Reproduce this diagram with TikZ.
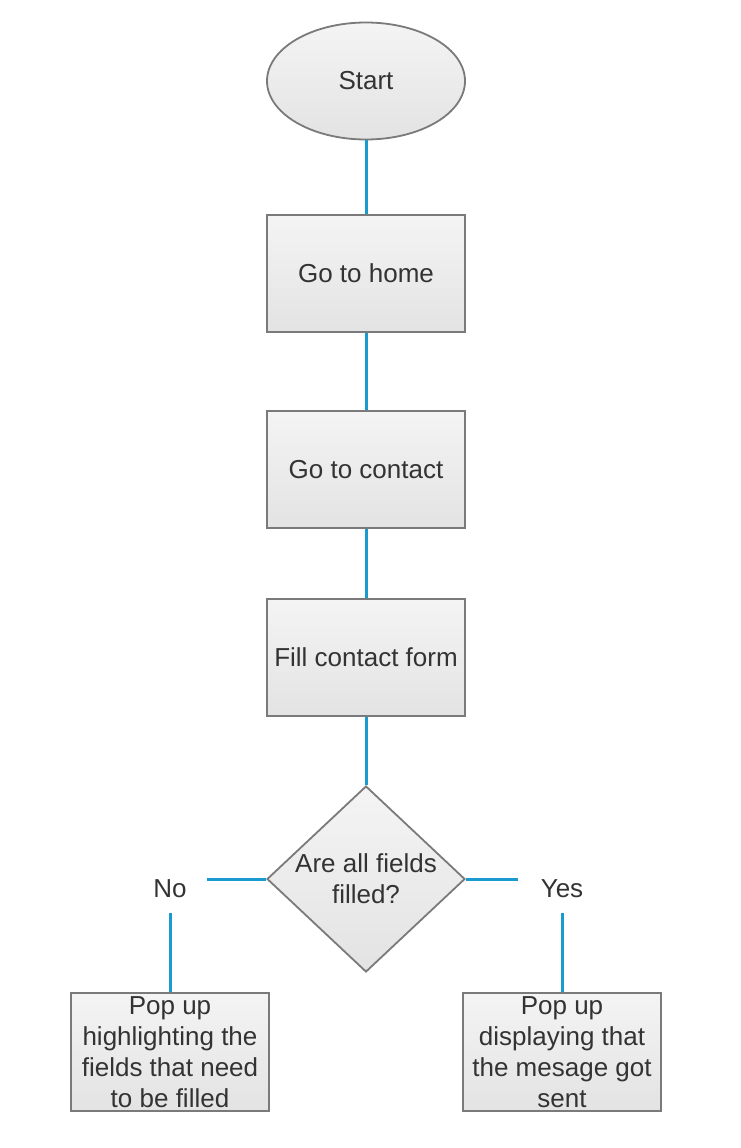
\documentclass[tikz,border=0pt]{standalone}
\usepackage{fontspec}
\setmainfont{Liberation Sans}
\usetikzlibrary{shapes.geometric}
\definecolor{flowline}{RGB}{26,155,208}
\definecolor{boxedge}{RGB}{122,122,122}
\definecolor{boxtop}{RGB}{244,244,244}
\definecolor{boxbottom}{RGB}{227,227,227}
\definecolor{boxtext}{RGB}{51,51,51}

\begin{document}
\begin{tikzpicture}[x=1pt,y=-1pt,
  every node/.style={font=\fontsize{26}{31}\selectfont, text=boxtext},
  shaded/.style={draw=boxedge, line width=1.8pt, top color=boxtop, bottom color=boxbottom},
  stepbox/.style={shaded, rectangle, minimum width=198pt, minimum height=117pt, inner sep=0pt, align=center},
  answer/.style={inner xsep=20pt, inner ysep=0pt, minimum height=48pt},
  flow/.style={draw=flowline, line width=3pt}]
  \useasboundingbox (0,0) rectangle (740,1148);

  \node[shaded, ellipse, minimum width=198pt, minimum height=117pt, inner sep=0pt] (start) at (366,81) {Start};
  \node[stepbox] (home) at (366,273.5) {Go to home};
  \node[stepbox] (contact) at (366,469.5) {Go to contact};
  \node[stepbox] (form) at (366,657.5) {Fill contact form};
  \node[shaded, diamond, aspect=1.06, minimum width=198pt, minimum height=186pt, inner sep=-3pt, align=center] (check) at (366,879) {Are all fields\\filled?};

  \node[answer] (no) at (170,889) {No};
  \node[answer, inner xsep=23pt] (yes) at (562,889) {Yes};

  \node[stepbox, minimum height=118pt] (fail) at (170,1052) {Pop up\\highlighting the\\fields that need\\to be filled};
  \node[stepbox, minimum height=118pt] (sent) at (562,1052) {Pop up\\displaying that\\the mesage got\\sent};

  \draw[flow] (start) -- (home);
  \draw[flow] (home) -- (contact);
  \draw[flow] (contact) -- (form);
  \draw[flow] (form) -- (check);
  \draw[flow] (check.west) -- (check.west -| no.east);
  \draw[flow] (check.east) -- (check.east -| yes.west);
  \draw[flow] (no) -- (fail);
  \draw[flow] (yes) -- (sent);
\end{tikzpicture}
\end{document}
